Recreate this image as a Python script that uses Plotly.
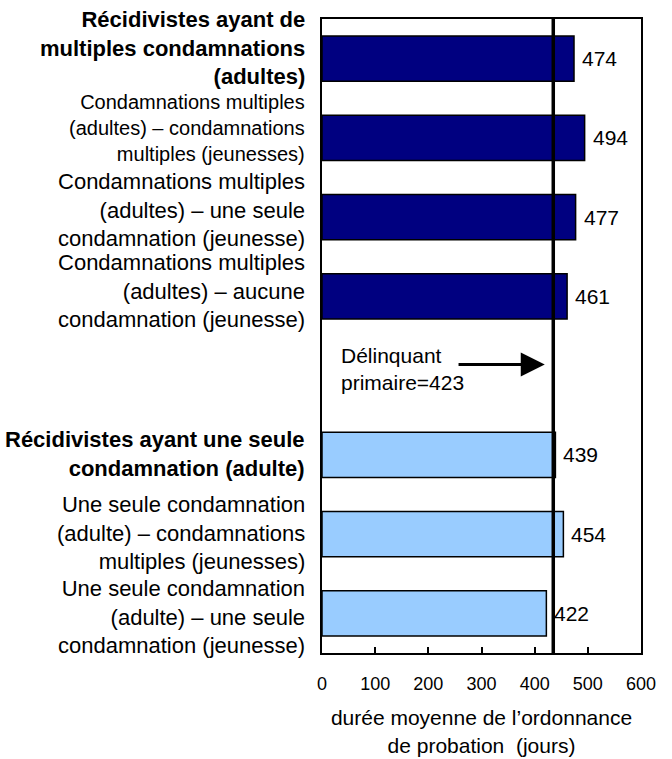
import plotly.graph_objects as go

# ---- data ----
categories = [
    "<b>Récidivistes ayant de<br>multiples condamnations<br>(adultes)</b>",
    "Condamnations multiples<br>(adultes) – condamnations<br>multiples (jeunesses)",
    "Condamnations multiples<br>(adultes) – une seule<br>condamnation (jeunesse)",
    "Condamnations multiples<br>(adultes) – aucune<br>condamnation (jeunesse)",
    "<b>Récidivistes ayant une seule<br>condamnation (adulte)</b>",
    "Une seule condamnation<br>(adulte) – condamnations<br>multiples (jeunesses)",
    "Une seule condamnation<br>(adulte) – une seule<br>condamnation (jeunesse)",
]
values = [474, 494, 477, 461, 439, 454, 422]
groups = ["multi", "multi", "multi", "multi", "single", "single", "single"]
slots = [0, 1, 2, 3, 5, 6, 7]          # row position (row 4 is empty)
first_offender_label = "Délinquant<br>primaire=423"
first_offender_line = 435               # where the reference line is drawn
x_ticks = [0, 100, 200, 300, 400, 500, 600]

# ---- style ----
FONT = "Liberation Sans, Arial, sans-serif"
colors = {"multi": "#000080", "single": "#99CCFF"}
label_sizes = [22, 20, 22, 22, 22, 22, 22]
label_yshift = [11, 10, 7, 5, 1, 1, -4]

fig = go.Figure()
fig.add_trace(go.Bar(
    x=values, y=slots, orientation="h", width=0.57,
    marker=dict(color=[colors[g] for g in groups],
                line=dict(color="black", width=1.5)),
    hoverinfo="skip", showlegend=False,
))

ann = []
for s, v in zip(slots, values):
    ann.append(dict(x=v, y=s, xref="x", yref="y", text=str(v), showarrow=False,
                    xanchor="left", xshift=6, font=dict(size=21, color="black", family=FONT)))
for s, c, fs, ys in zip(slots, categories, label_sizes, label_yshift):
    ann.append(dict(x=0, y=s, xref="paper", yref="y", text=c, showarrow=False,
                    xanchor="right", align="right", xshift=-15, yshift=ys,
                    font=dict(size=fs, color="black", family=FONT)))
# first-offender note and arrow
ann.append(dict(x=0.052, y=3.915, xref="paper", yref="y", text=first_offender_label,
                showarrow=False, xanchor="left", align="left",
                font=dict(size=21, color="black", family=FONT)))
ann.append(dict(x=419, y=3.86, xref="x", yref="y", ax=254, ay=3.86, axref="x", ayref="y",
                text="", showarrow=True, arrowhead=2, arrowsize=1.6, arrowwidth=3,
                arrowcolor="black"))

fig.add_shape(type="line", x0=first_offender_line, x1=first_offender_line,
              y0=-0.003, y1=1.003, xref="x", yref="paper",
              line=dict(color="black", width=3.5))

fig.update_layout(
    width=672, height=759,
    margin=dict(l=322, r=31, t=19, b=106),
    paper_bgcolor="white", plot_bgcolor="white",
    font=dict(family=FONT, color="black"),
    annotations=ann,
    bargap=0.43,
    xaxis=dict(range=[0, 600], tickvals=x_ticks, ticks="inside", ticklen=6, tickwidth=1.5,
               tickcolor="black", showgrid=False, zeroline=False, automargin=False,
               showline=True, mirror=True, linecolor="black", linewidth=2,
               tickfont=dict(size=18, family=FONT), ticklabelstandoff=13,
               title=dict(text="durée moyenne de l’ordonnance<br>de probation\u00a0 (jours)",
                          font=dict(size=21, family=FONT), standoff=18)),
    yaxis=dict(range=[7.5, -0.5], showticklabels=False, ticks="", showgrid=False,
               zeroline=False, showline=True, mirror=True, linecolor="black", linewidth=2,
               automargin=False),
)

fig.write_html("out.html", config={"displayModeBar": False},
               post_script="document.body.style.margin='0';document.body.style.padding='0';")
